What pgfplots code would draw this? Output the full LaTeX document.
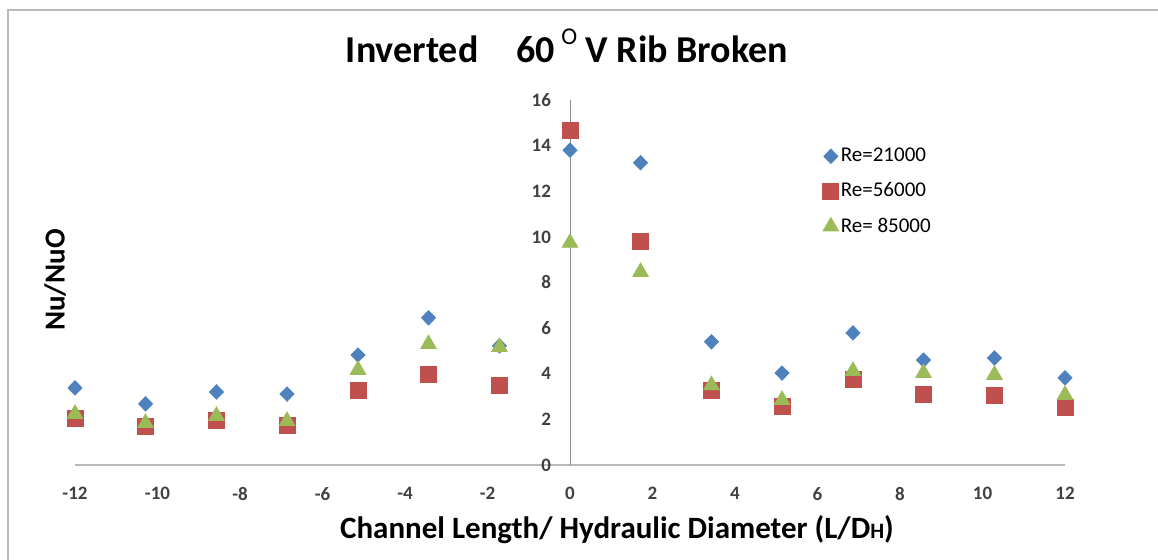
\documentclass[border=0pt]{standalone}
\usepackage{fontspec}
\setmainfont{Carlito}
\usepackage{pgfplots}
\pgfplotsset{compat=1.18}
\definecolor{cblue}{HTML}{4F81BD}
\definecolor{cred}{HTML}{C0504D}
\definecolor{cgreen}{HTML}{9BBB59}
\begin{document}
\begin{tikzpicture}
\path[use as bounding box] (0,0) rectangle (579pt,280pt);
\draw[gray!55, line width=0.9pt] (4pt,0) -- (4pt,275pt) -- (579pt,275pt);
\begin{axis}[
 at={(37.5pt,47.5pt)}, anchor=south west,
 scale only axis, width=495pt, height=182.5pt,
 xmin=-12, xmax=12, ymin=0, ymax=16,
 axis x line=bottom, axis y line=center,
 x axis line style={-, draw=gray!55, line width=1.3pt},
 y axis line style={-, draw=gray!90, line width=0.5pt},
 xtick={-12,-10,...,12}, ytick={0,2,...,16},
 major tick length=0pt,
 hide obscured x ticks=false, hide obscured y ticks=false,
 /pgf/number format/assume math mode=true,
 tick label style={font=\bfseries\fontsize{9.5}{10}\selectfont, text=black!75},
 xticklabel style={yshift=-7.5pt},
 yticklabel style={xshift=-6pt},
 clip=false,
 legend style={at={(0.755,0.875)}, anchor=north west, draw=none, fill=none,
   font=\fontsize{10.5}{11}\selectfont, row sep=7pt, inner sep=0pt,
   nodes={inner sep=1pt}},
 legend cell align=left,
 legend image code/.code={\draw[#1] plot coordinates {(0pt,0pt)};},
]
\addplot[only marks, mark=diamond*, color=cblue, mark size=3.6pt, mark options={xscale=1.3}] coordinates {
(-12,3.38) (-10.29,2.68) (-8.57,3.2) (-6.86,3.11) (-5.14,4.82) (-3.43,6.45) (-1.71,5.22)
(0,13.8) (1.71,13.25) (3.43,5.4) (5.14,4.03) (6.86,5.79) (8.57,4.6) (10.29,4.69) (12,3.82)};
\addlegendentry{Re=21000}
\addplot[only marks, mark=square*, color=cred, mark size=4pt] coordinates {
(-12,2.06) (-10.29,1.67) (-8.57,1.97) (-6.86,1.75) (-5.14,3.25) (-3.43,3.95) (-1.71,3.5)
(0,14.65) (1.71,9.82) (3.43,3.25) (5.14,2.59) (6.86,3.77) (8.57,3.11) (10.29,3.07) (12,2.54)};
\addlegendentry{Re=56000}
\addplot[only marks, mark=triangle*, color=cgreen, mark size=4.5pt] coordinates {
(-12,2.24) (-10.29,1.84) (-8.57,2.15) (-6.86,1.93) (-5.14,4.17) (-3.43,5.3) (-1.71,5.17)
(0,9.74) (1.71,8.46) (3.43,3.5) (5.14,2.85) (6.86,4.12) (8.57,4.03) (10.29,3.95) (12,3.07)};
\addlegendentry{Re= 85000}
\end{axis}
\node[font=\bfseries\fontsize{19}{21}\selectfont] at (283.5pt,257pt) {Inverted\quad 60\,\raisebox{1.0ex}{\mdseries\fontsize{12}{12}\selectfont O} V Rib Broken};
\node[font=\bfseries\fontsize{15.5}{17}\selectfont] at (308.5pt,15pt) {Channel Length/ Hydraulic Diameter (L/D{\fontsize{11}{11}\selectfont H})};
\node[font=\bfseries\fontsize{14.5}{16}\selectfont, rotate=90] at (27.5pt,140pt) {Nu/NuO};
\end{tikzpicture}
\end{document}
